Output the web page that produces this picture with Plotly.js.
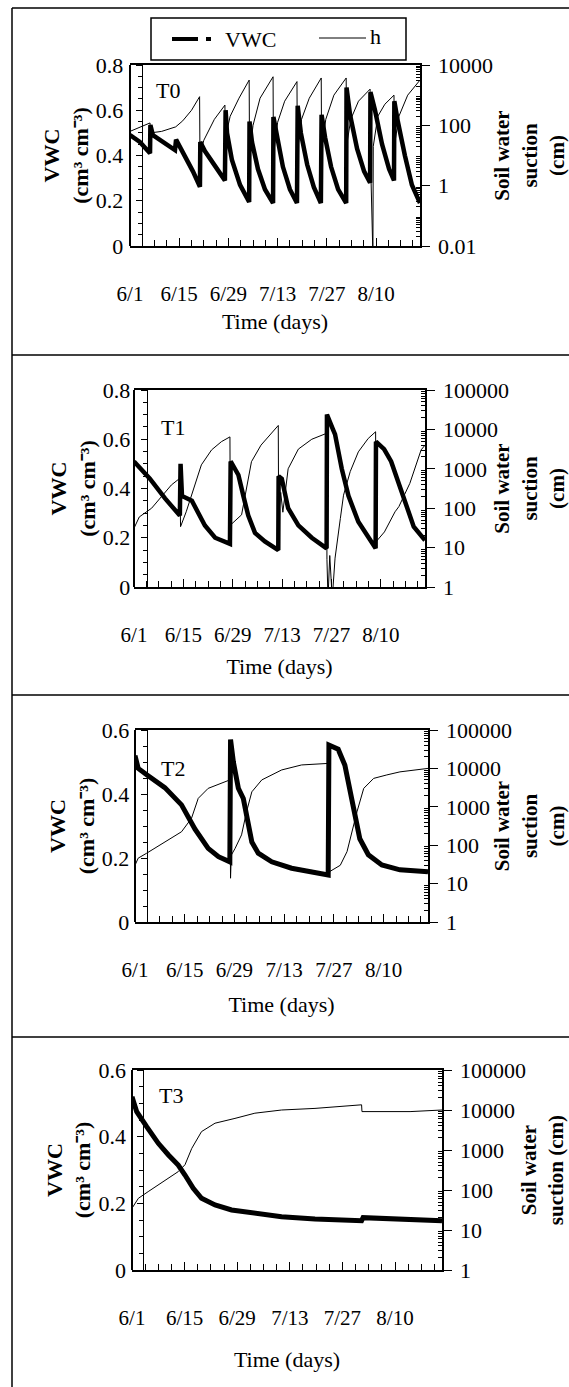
<!DOCTYPE html>
<html><head><meta charset="utf-8">
<script src="https://cdn.plot.ly/plotly-3.0.1.min.js"></script>
<style>html,body{margin:0;padding:0;background:#fff}#chart{width:569px;height:1387px}</style>
</head><body><div id="chart"></div>
<script>
// ---------- DATA (days since 6/1) ----------
const dateTickDays = [0, 14, 28, 42, 56, 70];
const dateTickLabels = ['6/1', '6/15', '6/29', '7/13', '7/27', '8/10'];
const panelNames = ['T0', 'T1', 'T2', 'T3'];

// T0
const t0VwcDays = [0,2.8,5.7,5.8,6.5,10,12.8,13.1,15.6,17.9,19.9,20.0,21.3,24.2,27.0,27.2,27.6,29.0,31.3,33.9,34.0,34.7,36.4,38.4,40.7,40.8,41.8,43.5,45.5,47.5,47.7,48.6,50.4,52.3,54.3,54.5,55.5,57.2,59.2,61.5,61.6,62.6,64.6,66.6,68.3,68.4,69.7,71.7,73.7,75.1,75.2,76.2,78.2,80.2,82.5];
const t0Vwc = [0.49,0.46,0.41,0.535,0.49,0.45,0.424,0.47,0.40,0.33,0.262,0.46,0.42,0.35,0.29,0.60,0.50,0.38,0.27,0.195,0.55,0.46,0.34,0.25,0.19,0.57,0.48,0.35,0.25,0.19,0.62,0.50,0.36,0.26,0.19,0.58,0.48,0.35,0.25,0.19,0.70,0.58,0.43,0.33,0.28,0.68,0.60,0.45,0.34,0.29,0.64,0.55,0.40,0.27,0.19];
const t0HDays = [0,2,5.7,5.8,9,13,15,17.5,19.8,19.9,21,24,27,27.1,28.5,31,33.9,34.0,35,37,40.7,40.8,42,44,47.5,47.6,48.8,51,54.4,54.5,55.7,58,61.5,61.6,62.8,65,68.3,68.4,69.0,69.1,69.2,70.5,72.5,75.1,75.2,76.5,79,82.5];
const t0H = [63,79,120,56,63,89,141,316,891,10.5,32,158,468,38,200,794,3162,10,100,794,4074,10,126,631,2818,12.6,158,794,3715,15.8,158,1000,3715,20,158,631,1585,10,0.005,0.005,20,200,501,1000,20,200,1000,3162];

// T1
const t1VwcDays = [0,4.5,8.8,13.0,13.2,13.6,16.4,20.1,23.0,27.2,27.4,29.6,31.0,32.4,34.3,37.1,40.9,41.0,41.9,43.7,46.6,50.4,54.6,54.7,56.4,57.0,58.9,60.8,63.6,66.4,68.5,68.6,70.9,72.9,75.1,77.1,79.3,82.5];
const t1Vwc = [0.51,0.44,0.36,0.29,0.50,0.37,0.35,0.25,0.20,0.175,0.51,0.455,0.37,0.29,0.22,0.185,0.15,0.45,0.44,0.32,0.25,0.20,0.157,0.70,0.64,0.62,0.48,0.37,0.265,0.20,0.157,0.59,0.56,0.51,0.42,0.33,0.245,0.19];
const t1HDays = [0,1.5,5,7.8,10.6,13.0,13.2,14.8,16.7,19.1,22,24.8,27.2,27.3,30.5,32,33.3,36,40.9,41.0,41.6,42.2,43.7,46.6,50.4,54.6,54.7,55.0,55.5,56.2,57,58.5,59.4,61.3,63.6,66.4,68.5,68.6,71,74,75.1,78.2,81.4,82.5];
const t1H = [31,60,100,195,389,575,34,81,263,1259,3020,4898,6457,37,68,389,1514,3981,12589,63,251,79,1000,3162,5623,7943,5,0.5,6.3,0.5,5.4,55,214,851,2692,5888,8710,14,25,81,110,427,3020,3981];

// T2
const t2VwcDays = [0,0.9,3.3,8.4,13.1,16.9,20.6,23.5,26.7,26.9,27.7,29.1,30.5,31.4,32.9,34.7,38.5,44.1,50.7,54.4,54.6,57.2,59.1,60.5,61.9,63.3,65.7,69.5,74.6,82.5];
const t2Vwc = [0.52,0.48,0.46,0.42,0.366,0.29,0.23,0.204,0.188,0.57,0.50,0.418,0.386,0.334,0.25,0.215,0.188,0.168,0.152,0.147,0.553,0.54,0.49,0.41,0.334,0.26,0.21,0.178,0.163,0.157];
const t2HDays = [0,0.9,3.3,8.4,13.1,15.9,17.8,20.6,24.4,26.7,26.9,27.1,28.2,30.0,31.4,32.9,35.7,41.3,46.9,54.4,54.6,57.8,59.7,61.1,62.5,64.4,67.2,70.9,74.6,82.5];
const t2H = [30,46,62,123,224,501,1660,3020,4074,5012,13.8,55,83,186,741,2455,5012,9120,12303,13490,20,30,68,224,741,3020,5495,6761,8128,10000];

// T3
const t3VwcDays = [0,1.25,3.9,7.0,9.7,12.3,14.1,16.3,18.5,22.1,26.5,32.7,39.8,48.7,57.6,61.1,61.5,74.0,82.5];
const t3Vwc = [0.52,0.475,0.43,0.38,0.345,0.315,0.285,0.245,0.215,0.195,0.18,0.17,0.16,0.153,0.15,0.148,0.157,0.153,0.148];
const t3HDays = [0,1.7,4.3,7.0,9.7,12.3,14.1,15.9,18.5,22.1,27.4,32.7,39.8,48.7,61.1,61.2,74,82.5];
const t3H = [35,62,91,135,195,288,427,1096,2884,4677,6166,8318,10000,10965,13490,9120,9120,10000];

const hTickValsT0 = [0.01, 1, 100, 10000];
const hTickTextT0 = ['0.01', '1', '100', '10000'];
const hTickVals = [1, 10, 100, 1000, 10000, 100000];
const hTickText = ['1', '10', '100', '1000', '10000', '100000'];

// ---------- LAYOUT ----------
const W = 569, H = 1387;
const fx = x => x / W;
const fy = y => 1 - y / H;
const FONT = 'Liberation Serif';

const series = [
  {vd: t0VwcDays, v: t0Vwc, hd: t0HDays, h: t0H},
  {vd: t1VwcDays, v: t1Vwc, hd: t1HDays, h: t1H},
  {vd: t2VwcDays, v: t2Vwc, hd: t2HDays, h: t2H},
  {vd: t3VwcDays, v: t3Vwc, hd: t3HDays, h: t3H}
];
const geo = [
  {l:130, r:420, t:65,   b:246,  inner:141.7, vmax:0.8, hr:[-2,4], hv:hTickValsT0, ht:hTickTextT0,
   lab:[168,90], xs:8, ls:8, rs:4, vw:4.5, rtitle:'Soil water<br>suction<br>(cm)'},
  {l:134, r:425, t:390,  b:587,  inner:146.7, vmax:0.8, hr:[0,5], hv:hTickVals, ht:hTickText,
   lab:[173,427], xs:12, ls:6, rs:4, vw:4.5, rtitle:'Soil water<br>suction<br>(cm)'},
  {l:135, r:428, t:730,  b:922,  inner:146.7, vmax:0.6, hr:[0,5], hv:hTickVals, ht:hTickText,
   lab:[173,768], xs:15, ls:7, rs:-8, vw:5, rtitle:'Soil water<br>suction<br>(cm)'},
  {l:132, r:442, t:1070, b:1270, inner:143.3, vmax:0.6, hr:[0,5], hv:hTickVals, ht:hTickText,
   lab:[171,1095], xs:22, ls:7, rs:-2, vw:5, rtitle:'Soil water<br>suction (cm)'}
];

function logMinor(lo, hi) {
  const out = [];
  for (let k = lo; k < hi; k++) for (let m = 2; m <= 9; m++) out.push(m * Math.pow(10, k));
  return out;
}

const traces = [];
const layout = {
  width: W, height: H,
  margin: {l:0, r:0, t:0, b:0},
  paper_bgcolor: '#fff', plot_bgcolor: 'rgba(0,0,0,0)',
  showlegend: false,
  font: {family: FONT, color: '#000', size: 21},
  shapes: [], annotations: []
};
const line = (x0, y0, x1, y1, w) => layout.shapes.push({type: 'line', xref: 'paper', yref: 'paper',
  x0: fx(x0), y0: fy(y0), x1: fx(x1), y1: fy(y1), line: {color: '#000', width: w}});

geo.forEach((g, k) => {
  const xid = k === 0 ? 'x' : 'x' + (k + 1);
  const yV = k === 0 ? 'y' : 'y' + (2 * k + 1);
  const yH = 'y' + (2 * k + 2);
  const xName = k === 0 ? 'xaxis' : 'xaxis' + (k + 1);
  const yVName = k === 0 ? 'yaxis' : 'yaxis' + (2 * k + 1);
  const yHName = 'yaxis' + (2 * k + 2);
  const dom = [fy(g.b), fy(g.t)];
  const s = series[k];

  traces.push({x: s.hd, y: s.h, xaxis: xid, yaxis: yH, mode: 'lines', name: 'h',
    line: {color: '#000', width: 1}, hoverinfo: 'skip'});
  traces.push({x: s.vd, y: s.v, xaxis: xid, yaxis: yV, mode: 'lines', name: 'VWC',
    line: {color: '#000', width: g.vw}, hoverinfo: 'skip'});

  layout[xName] = {
    domain: [fx(g.l), fx(g.r)], anchor: yV, range: [0, 82.5],
    showline: true, linewidth: 2, linecolor: '#000', mirror: true,
    showgrid: false, zeroline: false,
    tickmode: 'array', tickvals: dateTickDays, ticktext: dateTickLabels,
    ticks: 'inside', ticklen: 8, tickwidth: 1, tickcolor: '#000',
    minor: {dtick: 3.5, tick0: 0, ticks: 'inside', ticklen: 6, tickwidth: 1, tickcolor: '#000', showgrid: false},
    ticklabelstandoff: 28,
    tickfont: {family: FONT, size: 21, color: '#000'},
    title: {text: 'Time (days)', standoff: g.xs, font: {family: FONT, size: 22, color: '#000'}}
  };
  // VWC axis drawn on the inner line (with its ticks); labels pushed out past the frame
  layout[yVName] = {
    domain: dom, anchor: 'free', position: fx(g.inner), side: 'left', range: [0, g.vmax],
    dtick: 0.2, tick0: 0,
    showline: true, linewidth: 1, linecolor: '#000',
    showgrid: false, zeroline: false,
    ticks: 'outside', ticklen: 6, tickwidth: 1, tickcolor: '#000',
    minor: {dtick: 0.05, tick0: 0, ticks: 'outside', ticklen: 4, tickwidth: 1, tickcolor: '#000', showgrid: false},
    ticklabelstandoff: g.ls,
    tickfont: {family: FONT, size: 22, color: '#000'},
    title: {text: 'VWC<br>(cm³ cm⁻³)', standoff: 0,
      font: {family: FONT, size: 22, color: '#000', weight: 'bold'}}
  };
  layout[yHName] = {
    overlaying: yV, anchor: xid, side: 'right', type: 'log', range: g.hr,
    showline: true, linewidth: 1.5, linecolor: '#000',
    showgrid: false, zeroline: false,
    tickmode: 'array', tickvals: g.hv, ticktext: g.ht,
    ticks: 'outside', ticklen: 8, tickwidth: 1, tickcolor: '#000',
    minor: {tickmode: 'array', tickvals: logMinor(g.hr[0], g.hr[1]), ticks: 'inside', ticklen: 4, tickwidth: 1, tickcolor: '#000', showgrid: false},
    ticklabelstandoff: 4,
    tickfont: {family: FONT, size: 22, color: '#000'},
    title: {text: g.rtitle, standoff: g.rs, font: {family: FONT, size: 21, color: '#000', weight: 'bold'}}
  };

  // outer left frame line of the plot box
  line(g.l, g.t, g.l, g.b, 2);

  layout.annotations.push({xref: 'paper', yref: 'paper', x: fx(g.lab[0]), y: fy(g.lab[1]),
    text: panelNames[k], showarrow: false, xanchor: 'center', yanchor: 'middle',
    font: {family: FONT, size: 22, color: '#000'}});
});

// frame lines of the figure
line(12, 8, 569, 8, 1.5);
line(12, 8, 12, 1387, 1.5);
line(12, 355, 569, 355, 1.5);
line(12, 695, 569, 695, 1.5);
line(12, 1037, 569, 1037, 1.5);

// legend (top panel)
layout.shapes.push({type: 'rect', xref: 'paper', yref: 'paper', x0: fx(151), x1: fx(406), y0: fy(60), y1: fy(18),
  line: {color: '#000', width: 1.5}, fillcolor: '#fff'});
line(172, 39, 198, 39, 4);
line(206, 39, 211, 39, 4);
line(319, 38, 366, 38, 1);
layout.annotations.push({xref: 'paper', yref: 'paper', x: fx(250), y: fy(39), text: 'VWC', showarrow: false,
  xanchor: 'center', yanchor: 'middle', font: {family: FONT, size: 22, color: '#000'}});
layout.annotations.push({xref: 'paper', yref: 'paper', x: fx(375), y: fy(37), text: 'h', showarrow: false,
  xanchor: 'center', yanchor: 'middle', font: {family: FONT, size: 22, color: '#000'}});

Plotly.newPlot('chart', traces, layout, {staticPlot: true, displayModeBar: false});
</script>
</body></html>
